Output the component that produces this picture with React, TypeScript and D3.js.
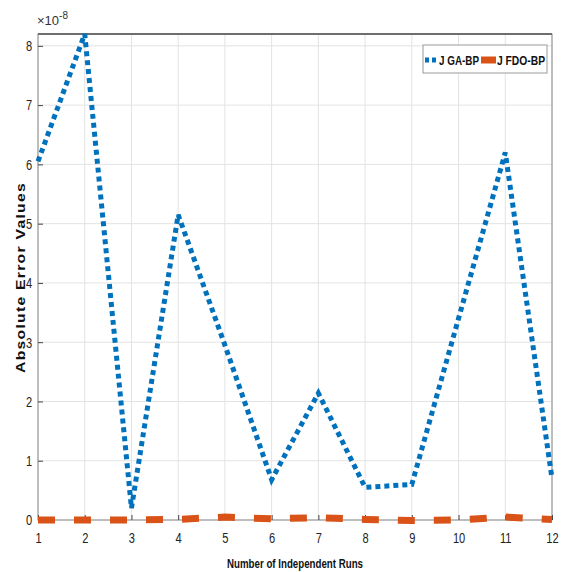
import { useEffect, useRef } from 'react';
import * as d3 from 'd3';

const RUNS = [1, 2, 3, 4, 5, 6, 7, 8, 9, 10, 11, 12];
const GA_BP = [6.05, 8.2, 0.2, 5.15, 2.95, 0.68, 2.14, 0.55, 0.6, 3.4, 6.2, 0.7];
const FDO_BP = [0.0, 0.0, 0.0, 0.01, 0.05, 0.02, 0.04, 0.01, -0.01, 0.0, 0.05, 0.01];
const Y_TICKS = [0, 1, 2, 3, 4, 5, 6, 7, 8];
const SERIES_NAMES = ['J GA-BP', 'J FDO-BP'];

const WIDTH = 565;
const HEIGHT = 572;
const FONT = '"Liberation Sans", Arial, sans-serif';

export default function App() {
  const ref = useRef<SVGSVGElement | null>(null);

  useEffect(() => {
    if (!ref.current) return;
    const svg = d3.select(ref.current);
    svg.selectAll('*').remove();

    const m = { left: 38, top: 34, bottom: 52 };
    const x0 = m.left;
    const x1 = WIDTH - 13;
    const y0 = HEIGHT - m.bottom;
    const y1 = m.top;
    const x = d3.scaleLinear().domain([1, 12]).range([x0, x1]);
    const y = d3.scaleLinear().domain([0, 8.2]).range([y0, y1]);

    svg.append('rect').attr('width', WIDTH).attr('height', HEIGHT).attr('fill', '#fff');

    // grid
    const grid = svg.append('g').attr('stroke', '#e3e3e3').attr('stroke-width', 1);
    RUNS.forEach(r => {
      grid.append('line').attr('x1', x(r)).attr('x2', x(r)).attr('y1', y0).attr('y2', y1);
    });
    Y_TICKS.forEach(t => {
      grid.append('line').attr('x1', x0).attr('x2', x1).attr('y1', y(t)).attr('y2', y(t));
    });

    // box
    svg.append('rect')
      .attr('x', x0).attr('y', y1).attr('width', x1 - x0).attr('height', y0 - y1)
      .attr('fill', 'none').attr('stroke', '#8a8a8a').attr('stroke-width', 1);
    svg.append('line').attr('x1', x0).attr('x2', x1).attr('y1', y1).attr('y2', y1)
      .attr('stroke', '#6e6e6e').attr('stroke-width', 2);

    // ticks
    const xa = svg.append('g').attr('transform', `translate(0,${y0})`)
      .call(d3.axisBottom(x).tickValues(RUNS).tickFormat(d3.format('d')).tickSize(-5).tickPadding(12));
    const ya = svg.append('g').attr('transform', `translate(${x0},0)`)
      .call(d3.axisLeft(y).tickValues(Y_TICKS).tickFormat(d3.format('d')).tickSize(-5).tickPadding(8));
    [xa, ya].forEach(a => {
      a.select('.domain').remove();
      a.selectAll('line').attr('stroke', '#444');
      a.selectAll('text').attr('fill', '#222').style('font-family', FONT).style('font-size', '15px')
        .attr('transform', 'scale(0.74,1)');
    });

    const line = d3.line<number>().x((_, i) => x(RUNS[i])).y(d => y(d));

    svg.append('path').datum(FDO_BP).attr('d', line)
      .attr('fill', 'none').attr('stroke', '#D95319').attr('stroke-width', 7)
      .attr('stroke-dasharray', '17,19');

    svg.append('path').datum(GA_BP).attr('d', line)
      .attr('fill', 'none').attr('stroke', '#0072BD').attr('stroke-width', 5)
      .attr('stroke-dasharray', '5,4');

    // exponent
    const ex = svg.append('text').attr('x', x0 - 1).attr('y', y1 - 9)
      .attr('fill', '#333').style('font-family', FONT).style('font-size', '13px');
    ex.append('tspan').text('×10');
    ex.append('tspan').attr('dy', -6).style('font-size', '10px').text('-8');

    // labels
    svg.append('text').attr('x', 227).attr('y', 568)
      .attr('textLength', 136).attr('lengthAdjust', 'spacingAndGlyphs').attr('fill', '#111')
      .style('font-family', FONT).style('font-size', '13px').style('font-weight', 'bold')
      .text('Number of Independent Runs');
    svg.append('text')
      .attr('transform', `translate(25,373) rotate(-90)`)
      .attr('textLength', 191).attr('lengthAdjust', 'spacingAndGlyphs').attr('fill', '#111')
      .style('font-family', FONT).style('font-size', '12.5px').style('font-weight', 'bold')
      .style('letter-spacing', '1px')
      .text('Absolute Error Values');

    // legend
    const lg = svg.append('g').attr('transform', 'translate(423,45)');
    lg.append('rect').attr('width', 124).attr('height', 28)
      .attr('fill', '#fff').attr('stroke', '#9a9a9a').attr('stroke-width', 1);
    lg.append('line').attr('x1', 2).attr('x2', 15).attr('y1', 15).attr('y2', 15)
      .attr('stroke', '#0072BD').attr('stroke-width', 5).attr('stroke-dasharray', '4,3');
    lg.append('text').attr('x', 16).attr('y', 20).attr('fill', '#111')
      .attr('textLength', 40).attr('lengthAdjust', 'spacingAndGlyphs')
      .style('font-family', FONT).style('font-size', '13px').style('font-weight', 'bold')
      .text(SERIES_NAMES[0]);
    lg.append('line').attr('x1', 58).attr('x2', 73).attr('y1', 15).attr('y2', 15)
      .attr('stroke', '#D95319').attr('stroke-width', 7);
    lg.append('text').attr('x', 74).attr('y', 20).attr('fill', '#111')
      .attr('textLength', 48).attr('lengthAdjust', 'spacingAndGlyphs')
      .style('font-family', FONT).style('font-size', '13px').style('font-weight', 'bold')
      .text(SERIES_NAMES[1]);
  }, []);

  return (
    <svg ref={ref} width={WIDTH} height={HEIGHT}
      style={{ position: 'absolute', left: 0, top: 0, display: 'block' }} />
  );
}
